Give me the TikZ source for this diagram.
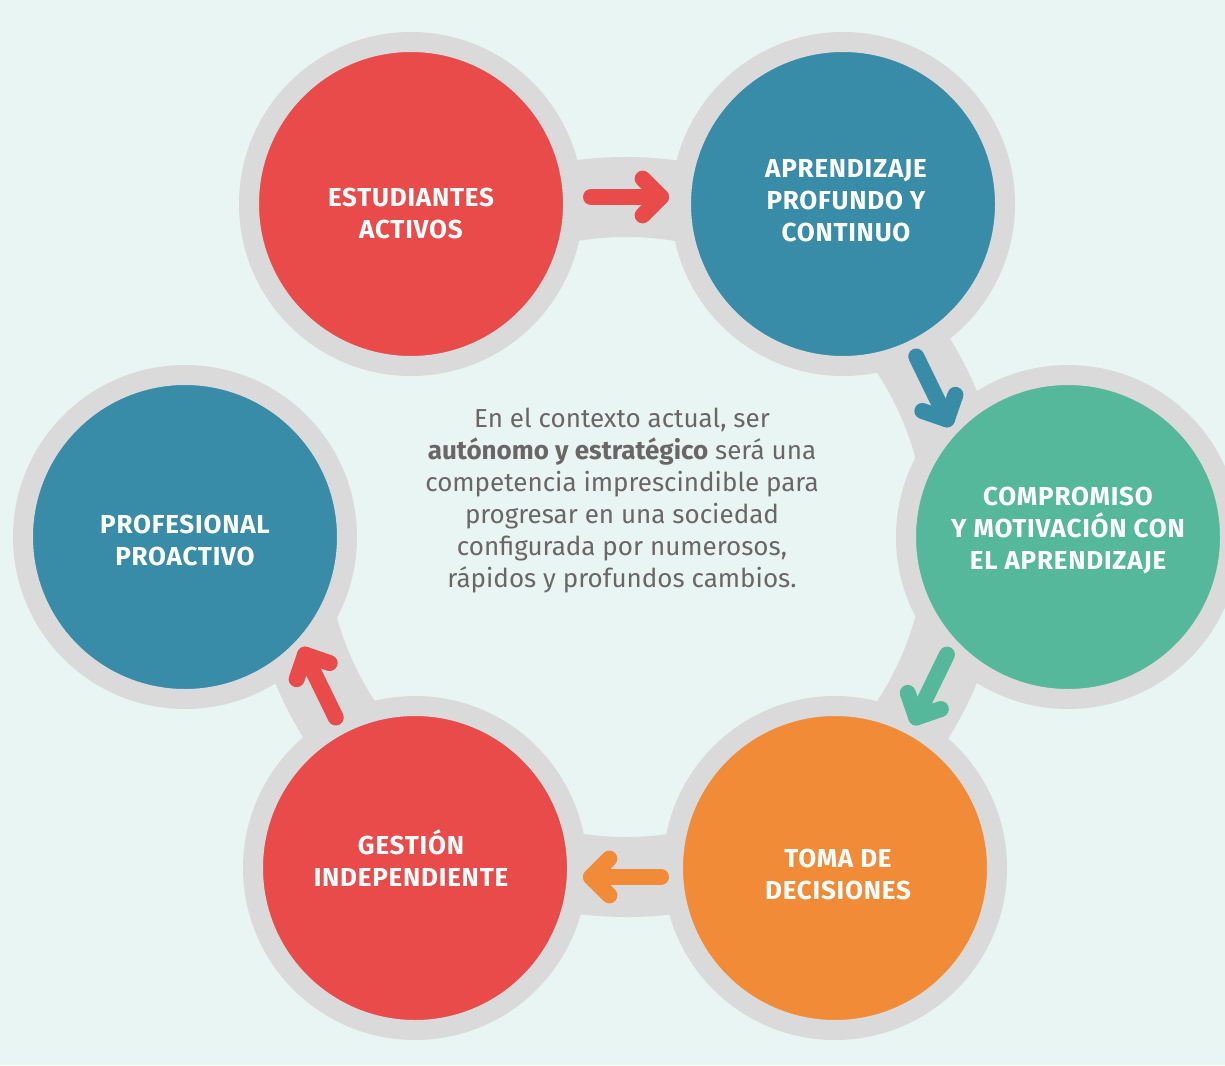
\documentclass[tikz,border=0pt]{standalone}
\usepackage{fontspec}
\setmainfont{Fira Sans}
\usetikzlibrary{calc}
\definecolor{bgc}{HTML}{E9F5F2}
\definecolor{ringgray}{HTML}{DADADA}
\definecolor{cred}{HTML}{E94B4A}
\definecolor{cblue}{HTML}{388CA8}
\definecolor{cgreen}{HTML}{55B89A}
\definecolor{corange}{HTML}{F28B37}
\definecolor{txtgray}{HTML}{6B6666}
\tikzset{
  bubble/.style={circle, inner sep=0pt, minimum size=324pt, draw=ringgray, line width=20pt},
  blabel/.style={text=white, align=center, inner sep=0pt,
    font=\bfseries\fontsize{26}{32}\selectfont\addfontfeatures{LetterSpace=3}},
  flow/.style={line width=16pt, line cap=round, line join=round},
}
\newcommand{\flowarrow}[3]{% name, angle, color
  \coordinate (#1m) at ($(O)+(#2:340pt)$);
  \coordinate (#1s) at ($(#1m)+(#2+90:35pt)$);
  \coordinate (#1e) at ($(#1m)+(#2-90:35pt)$);
  \draw[flow, #3] (#1s) -- (#1e);
  \draw[flow, #3] ($(#1e)!26pt!45:(#1s)$) -- (#1e) -- ($(#1e)!26pt!-45:(#1s)$);
}
\begin{document}
\begin{tikzpicture}[x=1pt,y=-1pt]
\fill[bgc] (0,0) rectangle (1225,1065);
\useasboundingbox (0,0) rectangle (1225,1065);
\coordinate (O) at (626,537);
\fill[ringgray] ($(O)+(122.8:380pt)$) arc[start angle=122.8, end angle=-180, radius=380pt]
  -- ($(O)+(-180:300pt)$) arc[start angle=-180, end angle=122.8, radius=300pt] -- cycle;
\node[bubble, fill=cred] (n1) at (411,204) {};
\node[bubble, fill=cblue] (n2) at (843,204) {};
\node[bubble, fill=cgreen] (n3) at (1068,537) {};
\node[bubble, fill=corange] (n4) at (835,868) {};
\node[bubble, fill=cred] (n5) at (415,868) {};
\node[bubble, fill=cblue] (n6) at (185,537) {};
\node[blabel] (l1) at (411,213) {ESTUDIANTES\\ACTIVOS};
\node[blabel] (l2) at (846,201) {APRENDIZAJE\\PROFUNDO Y\\CONTINUO};
\node[blabel] (l3) at (1068,530) {COMPROMISO\\Y MOTIVACIÓN CON\\EL APRENDIZAJE};
\node[blabel] (l4) at (838,874) {TOMA DE\\DECISIONES};
\node[blabel] (l5) at (411,858) {GESTIÓN\\INDEPENDIENTE};
\node[blabel] (l6) at (185,540) {PROFESIONAL\\PROACTIVO};
\flowarrow{a1}{90}{cred}
\flowarrow{a2}{26}{cblue}
\flowarrow{a3}{-26}{cgreen}
\flowarrow{a4}{-90}{corange}
\flowarrow{a5}{206}{cred}
\node[align=center, text=txtgray, font=\fontsize{26}{32}\selectfont] (txt) at (622,501)
 {En el contexto actual, ser\\\textbf{autónomo y estratégico} será una\\competencia imprescindible para\\progresar en una sociedad\\configurada por numerosos,\\rápidos y profundos cambios.};
\end{tikzpicture}
\end{document}
